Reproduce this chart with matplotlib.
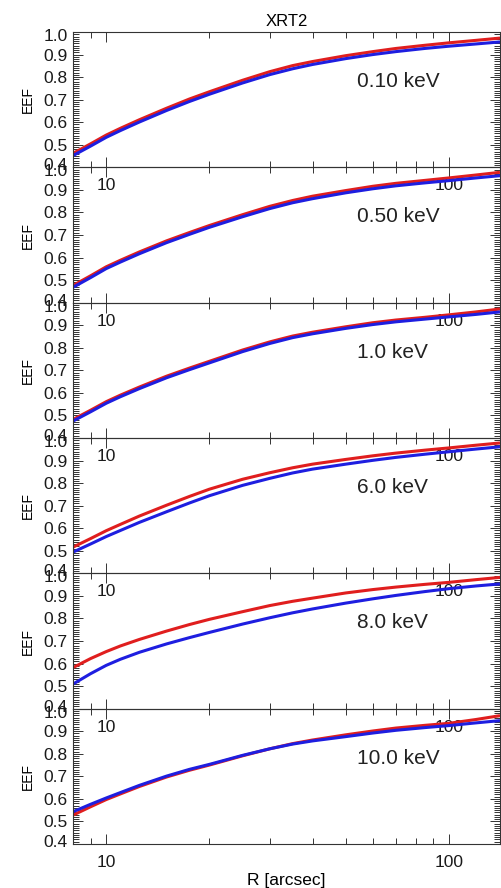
import numpy as np
import matplotlib
matplotlib.use("Agg")
import matplotlib.pyplot as plt
import matplotlib.transforms as mtransforms
from matplotlib.ticker import MultipleLocator, NullFormatter

plt.rcParams['font.family'] = ['Liberation Sans', 'DejaVu Sans']

R = [8, 9, 10, 11, 12.5, 15, 17.5, 20, 25, 30, 35, 40, 50, 60, 70, 85, 100, 120, 141]

energies = ["0.10 keV", "0.50 keV", "1.0 keV", "6.0 keV", "8.0 keV", "10.0 keV"]

eef_red = [
    [0.462, 0.504, 0.543, 0.573, 0.611, 0.662, 0.703, 0.735, 0.786, 0.824,
     0.851, 0.869, 0.895, 0.913, 0.927, 0.941, 0.952, 0.963, 0.973],
    [0.476, 0.519, 0.559, 0.588, 0.625, 0.674, 0.711, 0.742, 0.790, 0.827,
     0.853, 0.872, 0.897, 0.916, 0.929, 0.942, 0.953, 0.966, 0.978],
    [0.482, 0.523, 0.561, 0.590, 0.626, 0.674, 0.710, 0.740, 0.790, 0.826,
     0.852, 0.869, 0.893, 0.911, 0.923, 0.935, 0.946, 0.959, 0.972],
    [0.516, 0.554, 0.589, 0.617, 0.654, 0.702, 0.741, 0.773, 0.817, 0.846,
     0.868, 0.884, 0.905, 0.921, 0.933, 0.946, 0.956, 0.968, 0.978],
    [0.582, 0.622, 0.653, 0.678, 0.707, 0.744, 0.773, 0.796, 0.830, 0.857,
     0.876, 0.890, 0.913, 0.928, 0.939, 0.951, 0.960, 0.972, 0.982],
    [0.528, 0.565, 0.597, 0.622, 0.655, 0.697, 0.727, 0.750, 0.791, 0.822,
     0.845, 0.861, 0.884, 0.901, 0.914, 0.926, 0.935, 0.952, 0.969],
]

eef_blue = [
    [0.452, 0.494, 0.533, 0.563, 0.601, 0.652, 0.692, 0.724, 0.774, 0.811,
     0.837, 0.856, 0.882, 0.900, 0.913, 0.927, 0.937, 0.947, 0.956],
    [0.468, 0.511, 0.551, 0.580, 0.617, 0.666, 0.703, 0.734, 0.781, 0.817,
     0.843, 0.861, 0.887, 0.905, 0.918, 0.931, 0.941, 0.953, 0.963],
    [0.475, 0.516, 0.554, 0.583, 0.619, 0.667, 0.703, 0.733, 0.783, 0.819,
     0.845, 0.862, 0.886, 0.903, 0.915, 0.927, 0.937, 0.948, 0.959],
    [0.494, 0.530, 0.563, 0.590, 0.626, 0.673, 0.712, 0.744, 0.790, 0.821,
     0.845, 0.862, 0.884, 0.901, 0.914, 0.928, 0.939, 0.951, 0.961],
    [0.509, 0.555, 0.592, 0.619, 0.650, 0.687, 0.715, 0.738, 0.775, 0.803,
     0.825, 0.842, 0.868, 0.887, 0.902, 0.919, 0.932, 0.944, 0.953],
    [0.543, 0.576, 0.604, 0.628, 0.660, 0.701, 0.731, 0.753, 0.793, 0.822,
     0.843, 0.857, 0.876, 0.892, 0.904, 0.916, 0.925, 0.937, 0.947],
]

W, H = 501, 888
fig = plt.figure(figsize=(W / 100, H / 100), dpi=100)

left, right = 73 / W, 500 / W
top_px, bot_px = 32, 844
n = len(energies)
ph = (bot_px - top_px) / n

for i in range(n):
    y0 = 1 - (top_px + (i + 1) * ph) / H
    ax = fig.add_axes([left, y0, right - left, ph / H])
    ax.set_facecolor('none')
    ax.plot(R, eef_red[i], color='#e01e1e', lw=2.2, solid_capstyle='butt')
    ax.plot(R, eef_blue[i], color='#1e1ee0', lw=2.2, solid_capstyle='butt')

    ax.set_xscale('log')
    ax.set_xlim(8.0, 141)
    ax.set_ylim(0.4, 1.0)
    ax.set_xticks([10, 100])
    ax.set_xticklabels(['10', '100'])
    ax.xaxis.set_minor_formatter(NullFormatter())
    ax.set_yticks(np.arange(0.4, 1.01, 0.1))
    ax.set_yticklabels(['0.4', '0.5', '0.6', '0.7', '0.8', '0.9', '1.0'])
    ax.yaxis.set_minor_locator(MultipleLocator(0.01))

    ax.tick_params(which='both', direction='in', top=True, right=True,
                   width=0.7, color='#333333', labelcolor='#1a1a1a')
    ax.tick_params(which='major', length=7, labelsize=12.5)
    ax.tick_params(which='minor', length=4)
    ax.tick_params(axis='x', which='major', pad=8)
    ax.tick_params(axis='y', which='major', pad=4)
    for s in ax.spines.values():
        s.set_linewidth(0.8)
        s.set_color('#333333')

    # nudge end labels inward like the original
    labs = ax.get_yticklabels()
    up = mtransforms.ScaledTranslation(0, 3 / 100, fig.dpi_scale_trans)
    down = mtransforms.ScaledTranslation(0, -3 / 100, fig.dpi_scale_trans)
    labs[0].set_transform(labs[0].get_transform() + up)
    labs[-1].set_transform(labs[-1].get_transform() + down)

    ax.set_ylabel('EEF', fontsize=10, labelpad=6)
    ax.text(0.665, 0.635, energies[i], transform=ax.transAxes,
            fontsize=15, ha='left', va='center', color='#222222')

    if i == 0:
        ax.set_title('XRT2', fontsize=12, pad=4)
    if i == n - 1:
        ax.set_xlabel('R [arcsec]', fontsize=12.5, labelpad=2)

fig.savefig('out.png', dpi=100)
